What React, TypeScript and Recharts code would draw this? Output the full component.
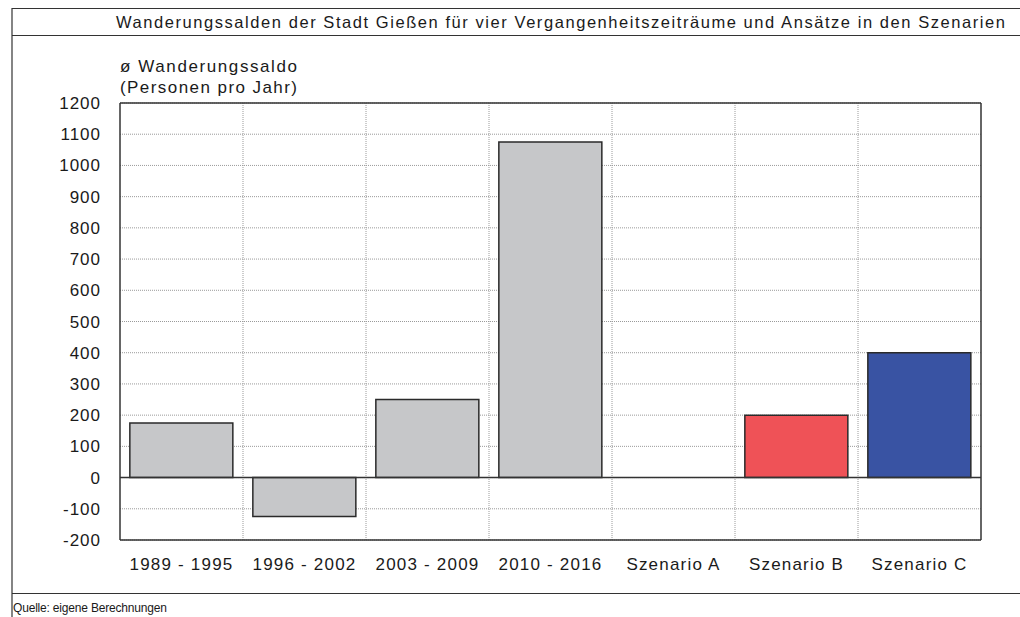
import React from "react";
import {
  BarChart,
  Bar,
  XAxis,
  YAxis,
  CartesianGrid,
  ReferenceLine,
  Cell,
} from "recharts";

const categories = [
  "1989 - 1995",
  "1996 - 2002",
  "2003 - 2009",
  "2010 - 2016",
  "Szenario A",
  "Szenario B",
  "Szenario C",
];
const saldo: (number | null)[] = [175, -125, 250, 1075, null, 200, 400];
const barColors = ["#c6c7c9", "#c6c7c9", "#c6c7c9", "#c6c7c9", "#c6c7c9", "#ef5257", "#3953a3"];
const yTicks = [-200, -100, 0, 100, 200, 300, 400, 500, 600, 700, 800, 900, 1000, 1100, 1200];

const titleText =
  "Wanderungssalden der Stadt Gießen für vier Vergangenheitszeiträume und Ansätze in den Szenarien";
const yTitle1 = "ø Wanderungssaldo";
const yTitle2 = "(Personen pro Jahr)";
const sourceText = "Quelle: eigene Berechnungen";

const data = categories.map((name, i) => ({ name, value: saldo[i] }));

const FONT = "Arial, 'Liberation Sans', Helvetica, sans-serif";
const TEXT = "#1a1a1a";
const FRAME = "#333333";

export default function App() {
  return (
    <div style={{ position: "absolute", left: 0, top: 0, width: 1020, height: 617, background: "#fff" }}>
      <BarChart
        width={1020}
        height={617}
        data={data}
        margin={{ top: 103, right: 39, bottom: 0, left: 0 }}
        barCategoryGap="8%"
      >
        <CartesianGrid
          stroke="#9a9a9a"
          strokeDasharray="1 1"
          verticalCoordinatesGenerator={({ offset }: any) =>
            categories.slice(1).map((_, i) => offset.left + (offset.width * (i + 1)) / categories.length)
          }
        />
        <XAxis
          dataKey="name"
          height={77}
          tickSize={0}
          tickMargin={18}
          axisLine={{ stroke: FRAME, strokeWidth: 1.5 }}
          tickLine={false}
          interval={0}
          tick={{ fill: TEXT, fontSize: 17, fontFamily: FONT, letterSpacing: 1.2 }}
        />
        <YAxis
          width={120}
          domain={[-200, 1200]}
          ticks={yTicks}
          interval={0}
          tickSize={0}
          tickMargin={19}
          tickLine={false}
          axisLine={{ stroke: FRAME, strokeWidth: 1.5 }}
          tick={{ fill: TEXT, fontSize: 17, fontFamily: FONT, letterSpacing: 1 }}
        />
        <Bar dataKey="value" isAnimationActive={false} stroke="#2a2a2a" strokeWidth={1.5}>
          {data.map((d, i) => (
            <Cell key={d.name} fill={barColors[i]} />
          ))}
        </Bar>
        <ReferenceLine y={0} stroke={FRAME} strokeWidth={1.5} />
        <ReferenceLine y={yTicks[yTicks.length - 1]} stroke={FRAME} strokeWidth={1.5} />
        <ReferenceLine
          x={categories[categories.length - 1]}
          position="end"
          stroke={FRAME}
          strokeWidth={1.5}
        />
      </BarChart>
      <svg
        width={1020}
        height={617}
        style={{ position: "absolute", left: 0, top: 0, pointerEvents: "none" }}
      >
        <line x1={12} y1={8.5} x2={1020} y2={8.5} stroke={FRAME} strokeWidth={1.2} />
        <line x1={12} y1={35.5} x2={1020} y2={35.5} stroke={FRAME} strokeWidth={1.2} />
        <line x1={12} y1={593.5} x2={1020} y2={593.5} stroke={FRAME} strokeWidth={1.2} />
        <line x1={12} y1={8} x2={12} y2={617} stroke={FRAME} strokeWidth={1.2} />
        <text
          x={116}
          y={28}
          fontFamily={FONT}
          fontSize={16.5}
          fill={TEXT}
          textLength={889}
          lengthAdjust="spacing"
        >
          {titleText}
        </text>
        <text x={120} y={72} fontFamily={FONT} fontSize={17} fill={TEXT} textLength={177} lengthAdjust="spacing">
          {yTitle1}
        </text>
        <text x={120} y={93} fontFamily={FONT} fontSize={17} fill={TEXT} textLength={177} lengthAdjust="spacing">
          {yTitle2}
        </text>
        <text x={13} y={612} fontFamily={FONT} fontSize={12} fill={TEXT} textLength={154} lengthAdjust="spacing">
          {sourceText}
        </text>
      </svg>
    </div>
  );
}
